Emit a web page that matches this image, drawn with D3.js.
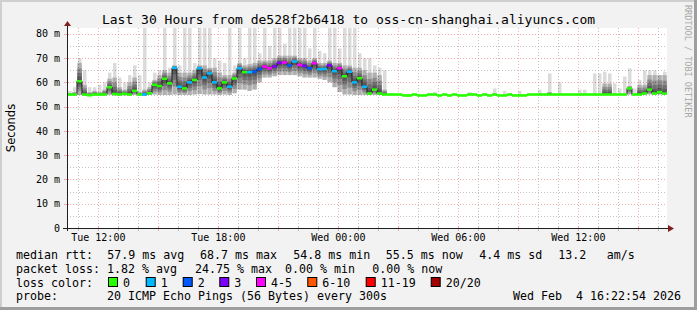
<!DOCTYPE html>
<html><head><meta charset="utf-8">
<script src="https://cdn.jsdelivr.net/npm/d3@7"></script>
<style>body{margin:0;background:#f2f2f2;} svg{display:block;} text{white-space:pre;}</style>
</head><body><svg id="c" width="697" height="310"></svg>
<script>
const title = "Last 30 Hours from de528f2b6418 to oss-cn-shanghai.aliyuncs.com";
const yAxisTitle = "Seconds";
const watermark = "RRDTOOL / TOBI OETIKER";
const startTime = new Date(2026,1,3,10,26);
const endTime = new Date(2026,1,4,16,26);
const stepMinutes = 15;
const xTickTimes = [new Date(2026,1,3,12), new Date(2026,1,3,18), new Date(2026,1,4,0), new Date(2026,1,4,6), new Date(2026,1,4,12)];
const xTickLabels = ["Tue 12:00","Tue 18:00","Wed 00:00","Wed 06:00","Wed 12:00"];
const yTicks = [0,10,20,30,40,50,60,70,80];
const yTickLabels = ["0","10 m","20 m","30 m","40 m","50 m","60 m","70 m","80 m"];
const yMax = 82.4;

// median rtt (ms) per 15-min step
const median = [55.0,55.0,60.5,55.0,54.7,55.0,55.0,55.0,58.0,55.2,
 55.0,55.3,55.0,56.5,55.0,55.0,55.5,59.0,58.5,61.5,
 59.6,66.0,58.2,57.5,60.0,61.0,65.8,62.0,63.7,60.0,
 57.5,60.0,58.2,61.6,65.8,64.2,64.2,64.4,65.5,66.5,
 65.8,66.6,68.0,68.2,67.0,68.6,67.2,66.8,65.8,67.9,
 65.4,65.5,67.0,64.6,65.8,62.5,64.4,60.0,61.7,58.2,
 55.4,57.0,55.4,55.0,55.0,55.0,55.0,54.6,54.6,55.0,
 54.6,54.6,55.0,55.0,54.6,55.0,54.6,55.0,54.6,54.6,
 55.0,55.0,54.6,55.0,54.6,55.0,54.6,54.6,55.0,54.6,
 54.6,54.6,55.0,55.0,55.0,55.0,55.0,55.0,55.0,55.0,
 55.0,55.0,55.0,55.0,55.0,55.0,55.0,55.0,55.0,55.0,
 55.0,55.0,57.5,55.0,55.0,55.4,57.0,55.4,56.0,55.4];
// lowest ping of the dense smoke
const low = [54.6,54.6,54.8,54.6,54.6,54.6,54.6,54.6,54.8,54.6,
 54.6,54.6,54.6,54.8,54.6,54.6,54.8,55.0,54.8,54.8,
 54.8,55.0,54.8,54.8,54.8,55.0,55.2,55.0,55.0,55.0,
 54.8,55.0,54.8,55.5,57.0,57.0,56.5,57.0,60.0,62.0,
 62.0,62.5,63.0,63.0,63.0,63.0,62.5,62.0,62.0,62.0,
 61.5,61.0,60.0,58.0,56.0,55.0,55.0,54.8,54.8,54.8,
 54.8,54.8,54.8,54.8,55.0,55.0,55.0,54.6,54.6,55.0,
 54.6,54.6,55.0,55.0,54.6,55.0,54.6,55.0,54.6,54.6,
 55.0,55.0,54.6,55.0,54.6,55.0,54.6,54.6,55.0,54.6,
 54.6,54.6,55.0,55.0,55.0,55.0,55.0,55.0,55.0,55.0,
 55.0,55.0,55.0,55.0,55.0,55.0,55.0,55.0,55.0,55.0,
 55.0,55.0,55.0,55.0,55.0,55.0,55.0,55.0,55.0,55.0];
// upper edge of the dense smoke
const upper = [55.6,56.0,68.0,59.0,56.0,56.5,56.0,57.0,61.5,62.0,
 58.0,57.0,60.0,62.0,56.0,57.0,58.0,61.0,63.0,65.0,
 64.0,67.0,64.0,64.0,64.0,65.0,67.0,67.0,66.0,66.0,
 64.0,63.0,63.0,64.0,68.0,67.0,67.5,68.0,69.0,69.0,
 69.0,70.0,71.0,71.0,71.0,71.0,70.0,70.0,69.0,70.0,
 68.0,68.0,69.0,68.0,68.0,67.0,67.0,66.0,66.0,65.0,
 64.0,64.0,63.0,57.0,55.0,55.0,55.0,54.6,54.6,55.0,
 54.6,54.6,55.0,55.0,54.6,55.0,54.6,55.0,54.6,54.6,
 55.0,55.0,54.6,55.0,54.6,55.0,54.6,54.6,55.0,54.6,
 54.6,54.6,55.0,55.0,55.0,55.0,56.0,55.0,55.0,55.0,
 55.0,55.0,55.0,55.0,55.0,55.0,55.0,59.5,59.5,55.0,
 55.0,55.0,58.5,55.0,59.0,59.0,63.0,63.0,63.0,63.0];
// highest ping (light smoke)
const peak = [56.5,58.0,70.0,65.0,58.0,58.0,59.0,60.0,64.0,68.0,
 62.0,60.0,63.0,67.0,63.0,83.0,60.0,64.0,65.0,83.0,
 66.0,83.0,67.0,83.0,83.0,68.0,83.0,83.0,83.0,70.0,
 69.0,68.0,83.0,67.0,83.0,70.0,83.0,83.0,72.0,83.0,
 75.0,83.0,83.0,76.0,83.0,83.0,83.0,83.0,74.0,83.0,
 73.0,72.0,83.0,83.0,74.0,83.0,83.0,83.0,72.0,70.0,
 70.0,67.0,66.0,65.0,55.0,55.0,55.0,54.6,54.6,55.0,
 54.6,54.6,55.0,56.0,54.6,55.0,54.6,55.0,54.6,54.6,
 56.0,55.0,54.6,55.0,54.6,57.5,54.6,56.5,55.0,54.6,
 56.5,54.6,55.0,55.0,57.0,55.0,63.7,55.0,60.0,55.0,
 55.0,55.0,57.0,57.0,55.0,63.7,63.7,64.4,63.7,59.6,
 57.5,62.4,65.8,57.5,61.0,65.0,65.0,65.0,63.0,64.4];
// loss class index per step
const lossIdx = [0,0,0,0,0,0,0,0,0,0,
 0,0,0,0,0,1,0,0,0,0,
 0,1,1,0,1,0,1,1,1,1,
 0,0,1,0,1,0,1,2,2,4,
 4,3,3,4,2,1,4,3,2,4,
 1,1,3,1,4,0,1,1,0,1,
 0,0,0,0,0,0,0,0,0,0,
 0,0,0,0,0,0,0,0,0,0,
 0,0,0,0,0,0,0,0,0,0,
 0,0,0,0,0,0,0,0,0,0,
 0,0,0,0,0,0,0,0,0,0,
 0,0,0,0,0,0,0,0,0,0];
const lossLabels = ["0","1","2","3","4-5","6-10","11-19","20/20"];
const lossColors = ["#26ff00","#00b8ff","#0059ff","#7e00ff","#ff00ff","#ff5500","#ff0000","#a00000"];

const legendRows = [
  {label:"median rtt:", items:[["57.9 ms avg",107.3],["68.7 ms max",200],["54.8 ms min",293.3],["55.5 ms now",385.7],["4.4 ms sd",479.3],["13.2",558.3],["am/s",606.7]]},
  {label:"packet loss:", items:[["1.82 % avg",107],["24.75 % max",195],["0.00 % min",285],["0.00 % now",372.3]]},
];
const lossBoxX = [108,145.7,182.7,219.3,256,307.3,365.7,430.7];
const probeText = "20 ICMP Echo Pings (56 Bytes) every 300s";
const dateText = "Wed Feb  4 16:22:54 2026";

const W = 697, H = 310;
const L = 67, R = 667, T = 28, B = 228;
const svg = d3.select("#c");
const mono = "'DejaVu Sans Mono', monospace";

// background & 3D frame
svg.append("rect").attr("width",W).attr("height",H).attr("fill","#f2f2f2");
svg.append("rect").attr("x",0).attr("y",0).attr("width",W).attr("height",2).attr("fill","#cfcfcf");
svg.append("rect").attr("x",0).attr("y",0).attr("width",2).attr("height",H).attr("fill","#cfcfcf");
svg.append("rect").attr("x",0).attr("y",H-3).attr("width",W).attr("height",3).attr("fill","#9e9e9e");
svg.append("rect").attr("x",W-3).attr("y",0).attr("width",3).attr("height",H).attr("fill","#9e9e9e");

const x = d3.scaleTime().domain([startTime,endTime]).range([L,R]);
const y = d3.scaleLinear().domain([0,yMax]).range([B,T]);

svg.append("rect").attr("x",L).attr("y",T).attr("width",R-L).attr("height",B-T).attr("fill","#fff");

// grid
const g = svg.append("g");
const minorC = "rgba(170,170,170,0.7)", majorC = "rgba(240,120,120,0.6)";
d3.range(5,81,10).forEach(v=>{
  g.append("line").attr("x1",L).attr("x2",R).attr("y1",Math.round(y(v))+0.5).attr("y2",Math.round(y(v))+0.5)
   .attr("stroke",minorC).attr("stroke-dasharray","1,2");
});
const hours = d3.timeHour.range(d3.timeHour.ceil(startTime), endTime);
hours.forEach(h=>{
  const major = h.getHours()%3===0;
  const xx = Math.round(x(h))+0.5;
  g.append("line").attr("x1",xx).attr("x2",xx).attr("y1",T).attr("y2",B)
   .attr("stroke",major?majorC:minorC).attr("stroke-dasharray","1,2");
  g.append("line").attr("x1",xx).attr("x2",xx).attr("y1",B-2).attr("y2",B+3).attr("stroke",major?majorC:minorC);
});
yTicks.filter(v=>v>0).forEach(v=>{
  const yy = Math.round(y(v))+0.5;
  g.append("line").attr("x1",L).attr("x2",R).attr("y1",yy).attr("y2",yy)
   .attr("stroke",majorC).attr("stroke-dasharray","1,2");
  g.append("line").attr("x1",L-3).attr("x2",L+2).attr("y1",yy).attr("y2",yy).attr("stroke",majorC);
});

// data
svg.append("clipPath").attr("id","pc").append("rect").attr("x",L).attr("y",T).attr("width",R-L).attr("height",B-T);
const d = svg.append("g").attr("clip-path","url(#pc)");
const steps = median.map((m,i)=>{
  const t0 = d3.timeMinute.offset(startTime, i*stepMinutes);
  const t1 = d3.timeMinute.offset(startTime, (i+1)*stepMinutes);
  return {i, x0:x(t0), x1:x(t1), med:m, lo:Math.min(low[i],m), up:Math.max(upper[i],m), pk:Math.max(peak[i],m), loss:lossIdx[i]};
});
// light smoke (max)
d.selectAll("rect.pk").data(steps.filter(s=>s.pk>s.med+0.2)).join("rect")
  .attr("x",s=>s.x0+1).attr("width",s=>s.x1-s.x0-1.5)
  .attr("y",s=>y(s.pk)).attr("height",s=>y(s.lo)-y(s.pk))
  .attr("fill","rgba(0,0,0,0.14)");
// dense smoke bands
const fracs = [1,0.7,0.45,0.25,0.1];
fracs.forEach(f=>{
  d.selectAll(null).data(steps.filter(s=>s.up-s.lo>0.5)).join("rect")
    .attr("x",s=>s.x0).attr("width",s=>s.x1-s.x0)
    .attr("y",s=>y(s.med+(s.up-s.med)*f))
    .attr("height",s=>y(s.med-(s.med-s.lo)*f)-y(s.med+(s.up-s.med)*f))
    .attr("fill","rgba(0,0,0,0.2)");
});
// median trace
const pts = [];
steps.forEach(s=>{pts.push([s.x0,y(s.med)]);pts.push([s.x1,y(s.med)]);});
d.append("path").attr("d",d3.line()(pts)).attr("fill","none").attr("stroke","#111").attr("stroke-width",1);
d.selectAll("rect.md").data(steps).join("rect")
  .attr("x",s=>s.x0).attr("width",s=>s.x1-s.x0)
  .attr("y",s=>y(s.med)-1.3).attr("height",2.6)
  .attr("fill",s=>lossColors[s.loss]);

// axes
const axC = "#1f1f1f", arC = "#801f1f";
svg.append("line").attr("x1",L-4).attr("x2",R+2).attr("y1",B+0.5).attr("y2",B+0.5).attr("stroke",axC);
svg.append("line").attr("x1",L+0.5).attr("x2",L+0.5).attr("y1",B+3).attr("y2",T-3).attr("stroke",axC);
svg.append("path").attr("d",`M${R+1},${B-3}L${R+7},${B+0.5}L${R+1},${B+4}Z`).attr("fill",arC);
svg.append("path").attr("d",`M${L-3},${T-2}L${L+0.5},${T-7}L${L+4},${T-2}Z`).attr("fill",arC);

// tick labels
yTicks.forEach((v,k)=>{
  svg.append("text").attr("x",60).attr("y",y(v)+3.6).attr("text-anchor","end")
    .attr("font-family",mono).attr("font-size",10).attr("fill","#000").text(yTickLabels[k]);
});
xTickTimes.forEach((t,k)=>{
  svg.append("text").attr("x",x(t)).attr("y",241).attr("text-anchor","middle")
    .attr("font-family",mono).attr("font-size",10).attr("fill","#000").text(xTickLabels[k]);
});

// titles
svg.append("text").attr("x",348.5).attr("y",24).attr("text-anchor","middle")
  .attr("font-family",mono).attr("font-size",13).attr("fill","#000").text(title);
svg.append("text").attr("transform","translate(15,128) rotate(-90)").attr("text-anchor","middle")
  .attr("font-family","'DejaVu Sans', sans-serif").attr("font-size",11.5).attr("fill","#000").text(yAxisTitle);
svg.append("text").attr("transform","translate(685,5) rotate(90)").attr("text-anchor","start")
  .attr("font-family",mono).attr("font-size",8.5).attr("fill","#a8a8a8").text(watermark);

// legend
const lf = 11.63;
const rowY = [259,272.7,286.5,300.2];
legendRows.forEach((r,k)=>{
  svg.append("text").attr("x",16).attr("y",rowY[k]).attr("font-family",mono).attr("font-size",lf).text(r.label);
  r.items.forEach(it=>{
    svg.append("text").attr("x",it[1]).attr("y",rowY[k]).attr("font-family",mono).attr("font-size",lf).text(it[0]);
  });
});
svg.append("text").attr("x",16).attr("y",rowY[2]).attr("font-family",mono).attr("font-size",lf).text("loss color:");
lossLabels.forEach((lb,k)=>{
  svg.append("rect").attr("x",lossBoxX[k]+0.5).attr("y",277.5).attr("width",9).attr("height",9)
    .attr("fill",lossColors[k]).attr("stroke","#000").attr("stroke-width",1);
  svg.append("text").attr("x",lossBoxX[k]+15).attr("y",rowY[2]).attr("font-family",mono).attr("font-size",lf).text(lb);
});
svg.append("text").attr("x",16).attr("y",rowY[3]).attr("font-family",mono).attr("font-size",lf).text("probe:");
svg.append("text").attr("x",107).attr("y",rowY[3]).attr("font-family",mono).attr("font-size",lf).text(probeText);
svg.append("text").attr("x",681).attr("y",rowY[3]).attr("text-anchor","end").attr("font-family",mono).attr("font-size",lf).text(dateText);
</script></body></html>
